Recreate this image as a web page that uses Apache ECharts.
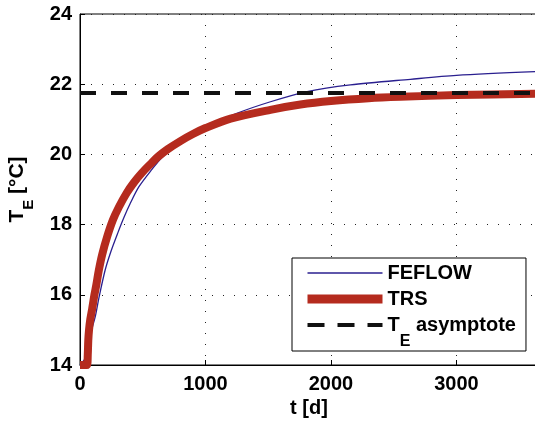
<!DOCTYPE html>
<html>
<head>
<meta charset="utf-8">
<script src="https://cdn.jsdelivr.net/npm/echarts@6/dist/echarts.min.js"></script>
<style>
html,body{margin:0;padding:0;background:#fff;}
#chart{width:535px;height:428px;}
</style>
</head>
<body>
<div id="chart"></div>
<script>
// ---- data ----
const feflowT = [0, 60, 80, 100, 123, 150, 200, 243, 300, 350, 400, 470, 575, 650, 800, 1000, 1250, 1518, 1810, 2155, 2633, 3000, 3650];
const feflowV = [14, 14.3, 14.8, 15.1, 15.4, 15.9, 16.7, 17.2, 17.75, 18.2, 18.6, 19.08, 19.58, 19.9, 20.35, 20.78, 21.17, 21.5, 21.79, 21.98, 22.14, 22.25, 22.36];

const trsT = [0, 55, 62, 66, 72, 82, 97, 115, 131, 150, 177, 216, 262, 310, 372, 430, 495, 560, 620, 700, 800, 900, 1000, 1200, 1518, 1757, 2000, 2300, 2554, 3000, 3650];
const trsV = [14, 14, 14.3, 14.7, 15.0, 15.3, 15.6, 16.0, 16.3, 16.7, 17.15, 17.65, 18.13, 18.5, 18.9, 19.2, 19.48, 19.72, 19.93, 20.15, 20.38, 20.58, 20.75, 21.02, 21.27, 21.42, 21.52, 21.6, 21.64, 21.69, 21.73];

const asymT = [0, 3650];
const asymV = [21.75, 21.75];

const xTicks = [0, 1000, 2000, 3000];
const yTicks = [14, 16, 18, 20, 22, 24];

const seriesNames = ['FEFLOW', 'TRS', 'T_E asymptote'];

// ---- chart ----
const FONT = '"Liberation Sans", Arial, Helvetica, sans-serif';
const pair = (xs, ys) => xs.map((x, i) => [x, ys[i]]);
const BLUE = '#2a1f8f', RED = '#b52b1e', BLACK = '#111';

const chart = echarts.init(document.getElementById('chart'), null, {renderer: 'canvas'});

const richLegend = {
  a: {fontFamily: FONT, fontWeight: 'bold', fontSize: 20, color: '#000', lineHeight: 20, verticalAlign: 'middle'},
  sub: {fontFamily: FONT, fontWeight: 'bold', fontSize: 16, color: '#000', lineHeight: 16, verticalAlign: 'top', padding: [19, 0, 0, 0]}
};
const richAxis = {
  a: {fontFamily: FONT, fontWeight: 'bold', fontSize: 21, color: '#000', lineHeight: 21, verticalAlign: 'middle'},
  sub: {fontFamily: FONT, fontWeight: 'bold', fontSize: 15, color: '#000', lineHeight: 15, verticalAlign: 'top', padding: [14, 0, 0, 0]}
};

chart.setOption({
  animation: false,
  backgroundColor: '#fff',
  grid: {left: 80, top: 14, right: -3, bottom: 63, show: true, borderColor: '#000', borderWidth: 1, containLabel: false, outerBoundsMode: 'none'},
  xAxis: {
    type: 'value', min: 0, max: 3650, interval: 1000,
    name: 't [d]', nameLocation: 'middle', nameGap: 32,
    nameTextStyle: {fontFamily: FONT, fontWeight: 'bold', fontSize: 20, color: '#000'},
    axisLine: {show: true, lineStyle: {color: '#000', width: 1}},
    axisTick: {show: true, inside: true, length: 5, lineStyle: {color: '#000'}},
    axisLabel: {
      fontFamily: FONT, fontWeight: 'bold', fontSize: 20, color: '#000', margin: 9,
      showMaxLabel: false,
      formatter: v => xTicks.indexOf(v) >= 0 ? String(v) : ''
    },
    splitLine: {show: true, lineStyle: {color: '#222', width: 1, type: [1, 10]}}
  },
  yAxis: {
    type: 'value', min: 14, max: 24, interval: 2,
    name: '{a|T}{sub|E}{a| [°C]}', nameLocation: 'middle', nameGap: 52, nameRotate: 90,
    nameTextStyle: {rich: richAxis},
    axisLine: {show: true, lineStyle: {color: '#000', width: 1}},
    axisTick: {show: true, inside: true, length: 5, lineStyle: {color: '#000'}},
    axisLabel: {
      fontFamily: FONT, fontWeight: 'bold', fontSize: 20, color: '#000', margin: 8,
      formatter: v => yTicks.indexOf(v) >= 0 ? String(v) : ''
    },
    splitLine: {show: true, lineStyle: {color: '#222', width: 1, type: [1, 10]}}
  },
  legend: {
    orient: 'vertical', left: 292, top: 258,
    data: [
      {name: seriesNames[0], lineStyle: {color: BLUE, width: 1.5}},
      {name: seriesNames[1], lineStyle: {color: RED, width: 9}},
      {name: seriesNames[2], lineStyle: {color: BLACK, width: 4, type: [17, 13]}}
    ],
    backgroundColor: '#fff', borderColor: '#000', borderWidth: 1, borderRadius: 0,
    padding: [5, 10, 1, 11],
    itemWidth: 75, itemHeight: 14, itemGap: 6,
    itemStyle: {opacity: 0},
    textStyle: {fontFamily: FONT, fontWeight: 'bold', fontSize: 20, color: '#000', lineHeight: 20, rich: richLegend},
    formatter: name => name === 'T_E asymptote' ? '{a|T}{sub|E}{a| asymptote}' : name
  },
  series: [
    {
      name: seriesNames[0], type: 'line', data: pair(feflowT, feflowV),
      symbol: 'none', smooth: 0.3, clip: false,
      lineStyle: {color: BLUE, width: 1.3}, itemStyle: {color: BLUE}, z: 2
    },
    {
      name: seriesNames[1], type: 'line', data: pair(trsT, trsV),
      symbol: 'none', smooth: 0.3, clip: false,
      lineStyle: {color: RED, width: 8}, itemStyle: {color: RED}, z: 3
    },
    {
      name: seriesNames[2], type: 'line', data: pair(asymT, asymV),
      symbol: 'none', clip: false,
      lineStyle: {color: BLACK, width: 4, type: [16, 15]}, itemStyle: {color: BLACK}, z: 4
    }
  ]
});
</script>
</body>
</html>
